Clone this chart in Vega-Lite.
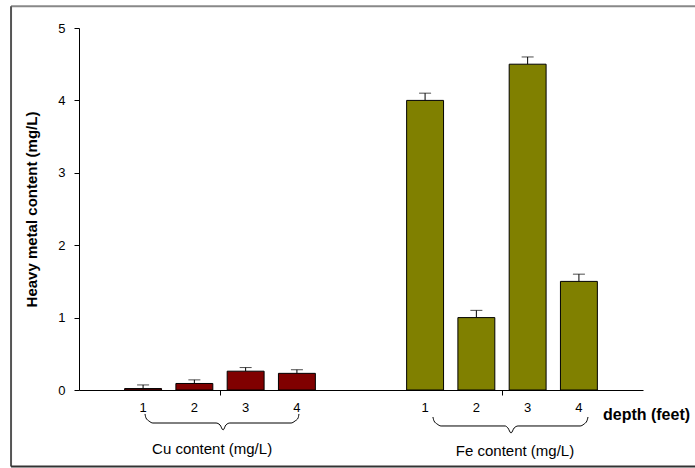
{
  "$schema": "https://vega.github.io/schema/vega-lite/v6.json",
  "width": 564,
  "height": 362,
  "autosize": "none",
  "padding": {"left": 79, "top": 28, "right": 52, "bottom": 78},
  "background": "white",
  "config": {"view": {"stroke": null}, "font": "Liberation Sans", "axis": {"grid": false}},
  "datasets": {
    "bars": [
      {"metal": "Cu", "depth": "1", "value": 0.02, "upper": 0.07},
      {"metal": "Cu", "depth": "2", "value": 0.09, "upper": 0.14},
      {"metal": "Cu", "depth": "3", "value": 0.26, "upper": 0.31},
      {"metal": "Cu", "depth": "4", "value": 0.23, "upper": 0.28},
      {"metal": "Fe", "depth": "1", "value": 4.0, "upper": 4.1},
      {"metal": "Fe", "depth": "2", "value": 1.0, "upper": 1.1},
      {"metal": "Fe", "depth": "3", "value": 4.5, "upper": 4.6},
      {"metal": "Fe", "depth": "4", "value": 1.5, "upper": 1.6}
    ],
    "braces": [
      {"grp": "Cu", "ord": 1, "u": 0.234, "y": -0.331},
      {"grp": "Cu", "ord": 2, "u": 0.2376, "y": -0.387},
      {"grp": "Cu", "ord": 3, "u": 0.248, "y": -0.428},
      {"grp": "Cu", "ord": 4, "u": 0.262, "y": -0.456},
      {"grp": "Cu", "ord": 5, "u": 0.486, "y": -0.456},
      {"grp": "Cu", "ord": 6, "u": 0.5, "y": -0.483},
      {"grp": "Cu", "ord": 7, "u": 0.511, "y": -0.552},
      {"grp": "Cu", "ord": 8, "u": 0.521, "y": -0.483},
      {"grp": "Cu", "ord": 9, "u": 0.535, "y": -0.456},
      {"grp": "Cu", "ord": 10, "u": 0.752, "y": -0.456},
      {"grp": "Cu", "ord": 11, "u": 0.766, "y": -0.428},
      {"grp": "Cu", "ord": 12, "u": 0.777, "y": -0.387},
      {"grp": "Cu", "ord": 13, "u": 0.78, "y": -0.331},
      {"grp": "Fe", "ord": 1, "u": 1.255, "y": -0.373},
      {"grp": "Fe", "ord": 2, "u": 1.259, "y": -0.428},
      {"grp": "Fe", "ord": 3, "u": 1.27, "y": -0.47},
      {"grp": "Fe", "ord": 4, "u": 1.284, "y": -0.497},
      {"grp": "Fe", "ord": 5, "u": 1.511, "y": -0.497},
      {"grp": "Fe", "ord": 6, "u": 1.521, "y": -0.525},
      {"grp": "Fe", "ord": 7, "u": 1.532, "y": -0.594},
      {"grp": "Fe", "ord": 8, "u": 1.543, "y": -0.525},
      {"grp": "Fe", "ord": 9, "u": 1.557, "y": -0.497},
      {"grp": "Fe", "ord": 10, "u": 1.777, "y": -0.497},
      {"grp": "Fe", "ord": 11, "u": 1.791, "y": -0.47},
      {"grp": "Fe", "ord": 12, "u": 1.801, "y": -0.428},
      {"grp": "Fe", "ord": 13, "u": 1.805, "y": -0.373}
    ],
    "groups": [
      {"label": "Cu content (mg/L)", "u": 0.472, "y": -0.815},
      {"label": "Fe content (mg/L)", "u": 1.546, "y": -0.84}
    ]
  },
  "layer": [
    {
      "data": {"name": "bars"},
      "encoding": {
        "x": {"field": "metal", "type": "nominal", "scale": {"paddingInner": 0, "paddingOuter": 0},
              "axis": {"title": null, "labels": false, "ticks": true, "tickSize": 5, "tickColor": "black", "domainColor": "black"}},
        "xOffset": {"field": "depth", "type": "nominal", "scale": {"paddingInner": 0.28, "paddingOuter": 0.89}}
      },
      "layer": [
        {
          "mark": {"type": "rule", "color": "black", "strokeWidth": 1},
          "encoding": {
            "y": {"field": "value", "type": "quantitative", "scale": {"domain": [0, 5], "nice": false},
                  "axis": {"values": [0, 1, 2, 3, 4, 5], "format": "d", "tickSize": 5, "tickColor": "black", "domainColor": "black",
                           "labelColor": "black", "labelFontSize": 13, "labelPadding": 9,
                           "title": "Heavy metal content (mg/L)", "titleFontSize": 15, "titleFontWeight": "bold",
                           "titleColor": "black", "titlePadding": 18}},
            "y2": {"field": "upper"}
          }
        },
        {
          "mark": {"type": "tick", "orient": "horizontal", "size": 12, "thickness": 1, "color": "black"},
          "encoding": {"y": {"field": "upper", "type": "quantitative"}}
        },
        {
          "mark": {"type": "bar", "stroke": "black", "strokeWidth": 1},
          "encoding": {
            "y": {"field": "value", "type": "quantitative"},
            "color": {"field": "metal", "type": "nominal", "scale": {"domain": ["Cu", "Fe"], "range": ["#800000", "#808000"]}, "legend": null}
          }
        },
        {
          "mark": {"type": "text", "fontSize": 13, "baseline": "middle", "color": "black"},
          "encoding": {"y": {"datum": -0.25}, "text": {"field": "depth"}}
        }
      ]
    },
    {
      "layer": [
        {
          "data": {"name": "braces"},
          "mark": {"type": "line", "color": "black", "strokeWidth": 1, "interpolate": "monotone"},
          "encoding": {
            "x": {"field": "u", "type": "quantitative", "scale": {"domain": [0, 2], "nice": false, "zero": false}, "axis": null},
            "y": {"field": "y", "type": "quantitative"},
            "detail": {"field": "grp"},
            "order": {"field": "ord"}
          }
        },
        {
          "data": {"name": "groups"},
          "mark": {"type": "text", "fontSize": 15, "align": "center", "baseline": "middle", "color": "black"},
          "encoding": {
            "x": {"field": "u", "type": "quantitative"},
            "y": {"field": "y", "type": "quantitative"},
            "text": {"field": "label"}
          }
        },
        {
          "data": {"values": [{"t": "depth (feet)"}]},
          "mark": {"type": "text", "fontSize": 16, "fontWeight": "bold", "align": "left", "baseline": "middle", "color": "black"},
          "encoding": {
            "x": {"datum": 1.858},
            "y": {"datum": -0.345},
            "text": {"field": "t"}
          }
        },
        {
          "data": {"values": [{"a": -0.241, "b": 2.2, "c": 5.3}]},
          "mark": {"type": "rule", "color": "#888888", "strokeWidth": 2},
          "encoding": {"x": {"field": "a", "type": "quantitative"}, "x2": {"field": "b"}, "y": {"field": "c", "type": "quantitative"}}
        },
        {
          "data": {"values": [{"a": -0.241, "c": 5.3, "d": -1.055}]},
          "mark": {"type": "rule", "color": "#555555", "strokeWidth": 2},
          "encoding": {"x": {"field": "a", "type": "quantitative"}, "y": {"field": "c", "type": "quantitative"}, "y2": {"field": "d"}}
        },
        {
          "data": {"values": [{"a": -0.241, "b": 2.2, "d": -1.055}]},
          "mark": {"type": "rule", "color": "#333333", "strokeWidth": 2},
          "encoding": {"x": {"field": "a", "type": "quantitative"}, "x2": {"field": "b"}, "y": {"field": "d", "type": "quantitative"}}
        }
      ]
    }
  ],
  "resolve": {"scale": {"x": "independent"}}
}
